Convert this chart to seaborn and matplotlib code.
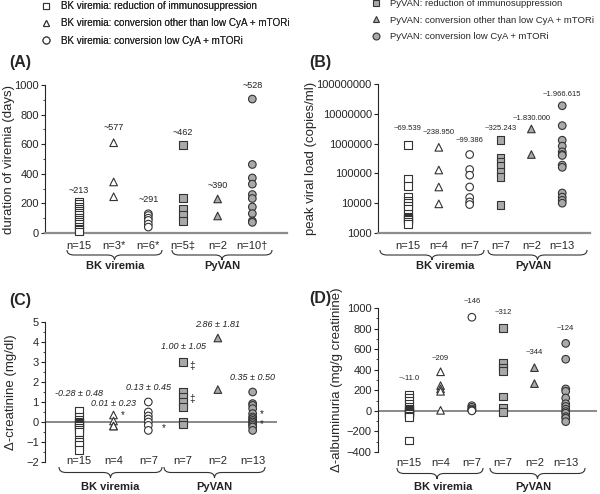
import numpy as np
import pandas as pd
import matplotlib
matplotlib.use('Agg')
import matplotlib.pyplot as plt
import seaborn as sns
from matplotlib.path import Path
from matplotlib.patches import PathPatch
from matplotlib.lines import Line2D
from matplotlib.ticker import MultipleLocator, NullLocator

# grupos (mismo orden en los 4 paneles)
grupos = ['BK_red', 'BK_conv', 'BK_low', 'Py_red', 'Py_conv', 'Py_low']
nombres = ['BK viremia: reduction of immunosuppression',
           'BK viremia: conversion other than low CyA + mTORi',
           'BK viremia: conversion low CyA + mTORi',
           'PyVAN: reduction of immunosuppression',
           'PyVAN: conversion other than low CyA + mTORi',
           'PyVAN: conversion low CyA + mTORi']
marcadores = ['s', '^', 'o', 's', '^', 'o']
relleno = ['white', 'white', 'white', '#a9a9a9', '#a9a9a9', '#a9a9a9']

# (A) duracion de viremia (dias)
dur_bk_red = [213, 195, 180, 165, 150, 135, 120, 105, 90, 75, 60, 45, 30, 20, 10]
dur_bk_conv = [610, 345, 245]
dur_bk_low = [130, 118, 100, 85, 60, 40]
dur_py_red = [595, 235, 165, 120, 80]
dur_py_conv = [230, 115]
dur_py_low = [905, 463, 372, 330, 260, 233, 176, 131, 81, 72]
n_a = ['n=15', 'n=3*', 'n=6*', 'n=5‡', 'n=2', 'n=10†']
med_a = ['~213', '~577', '~291', '~462', '~390', '~528']
med_a_y = [290, 716, 223, 682, 324, 1000]

# (B) carga viral maxima (copias/ml)
load_bk_red = [900000, 65000, 37000, 16000, 12000, 10000, 8000, 6500, 4500,
               3500, 3200, 3000, 2800, 2400, 2000]
load_bk_conv = [750000, 130000, 35000, 9500]
load_bk_low = [430000, 135000, 87000, 35000, 15500, 11000, 9000]
load_py_red = [1300000, 340000, 245000, 175000, 112000, 76000, 8500]
load_py_conv = [3100000, 430000]
load_py_low = [18600000, 4000000, 1300000, 820000, 530000, 430000, 400000,
               190000, 160000, 22000, 16000, 12500, 10000]
n_b = ['n=15', 'n=4', 'n=7', 'n=7', 'n=2', 'n=13']
med_b = ['~69.539', '~238.950', '~99.386', '~325.243', '~1.830.000', '~1.966.615']
med_b_y = [3.3e6, 2.3e6, 1.23e6, 3.3e6, 7.2e6, 4.6e7]

# (C) delta creatinina (mg/dl)
crea_bk_red = [0.55, 0.25, 0.1, 0.0, -0.05, -0.1, -0.15, -0.2, -0.3, -0.4,
               -0.5, -0.9, -1.0, -1.15, -1.4]
crea_bk_conv = [0.35, 0.05, -0.2, -0.2]
crea_bk_low = [1.0, 0.5, 0.3, 0.15, 0.0, -0.17, -0.42]
crea_py_red = [3.0, 1.5, 1.25, 1.0, 0.75, 0.0, -0.12]
crea_py_conv = [4.2, 1.62]
crea_py_low = [1.5, 0.92, 0.83, 0.67, 0.42, 0.25, 0.17, 0.08, 0.0, -0.08,
               -0.17, -0.25, -0.42]
n_c = ['n=15', 'n=4', 'n=7', 'n=7', 'n=2', 'n=13']
med_c = ['-0.28 ± 0.48', '0.01 ± 0.23', '0.13 ± 0.45', '1.00 ± 1.05',
         '2.86 ± 1.81', '0.35 ± 0.50']
med_c_y = [1.45, 0.95, 1.75, 3.8, 4.9, 2.25]

# (D) delta albuminuria (mg/g creatinina)
alb_bk_red = [160, 130, 100, 70, 40, 20, 10, 0, 0, -10, -20, -30, -45, -60, -290]
alb_bk_conv = [380, 245, 215, 190, 5]
alb_bk_low = [910, 50, 35, 20, 10, 5, 0]
alb_py_red = [805, 465, 420, 385, 140, 30, -10]
alb_py_conv = [420, 265]
alb_py_low = [656, 502, 213, 190, 125, 69, 43, 16, -7, -23, -56, -72, -105]
n_d = ['n=15', 'n=4', 'n=7', 'n=7', 'n=2', 'n=13']
med_d = ['~-11.0', '~209', '~146', '~312', '~344', '~124']
med_d_y = [310, 505, 1068, 961, 563, 796]

W, H = 600, 494
sns.set_style('ticks')
plt.rcParams['font.family'] = ['Liberation Sans', 'DejaVu Sans']
plt.rcParams['axes.linewidth'] = 0.8

fig = plt.figure(figsize=(W / 100, H / 100), dpi=100)


def px(x, y):
    return x / W, 1 - y / H


def nuevo_ax(l, r, t, b):
    return fig.add_axes([l / W, 1 - b / H, (r - l) / W, (b - t) / H])


def tabla(listas):
    filas = []
    for i, vals in enumerate(listas):
        for v in vals:
            filas.append({'pos': i, 'grupo': grupos[i], 'valor': v})
    return pd.DataFrame(filas)


def dibujar(ax, listas, n_labels, meds, meds_y, italic=False, fs_med=6.5):
    df = tabla(listas)
    sns.scatterplot(data=df, x='pos', y='valor', hue='grupo', style='grupo',
                    palette=dict(zip(grupos, relleno)),
                    markers=dict(zip(grupos, marcadores)),
                    edgecolor='#333333', linewidth=0.8, s=30,
                    legend=False, ax=ax, zorder=3, clip_on=False)
    for i, (t, y) in enumerate(zip(meds, meds_y)):
        ax.text(i, y, t, ha='center', va='center', fontsize=fs_med,
                style='italic' if italic else 'normal', color='#222222',
                clip_on=False)
    ax.set_xticks(range(6))
    ax.set_xticklabels(n_labels)
    ax.set_xlabel('')
    ax.tick_params(axis='x', length=0, labelsize=8)
    ax.tick_params(axis='y', which='major', length=3, width=0.8, labelsize=8, pad=1.5)
    ax.tick_params(axis='y', which='minor', length=1.5, width=0.6)
    sns.despine(ax=ax)


def llave(x0, x1, y, h, tip=None):
    xc = (x0 + x1) / 2 if tip is None else tip
    q = 7
    ym = y + h / 2
    pts = [(x0, y), (x0, ym), (x0 + q, ym), (xc - q, ym), (xc, ym), (xc, y + h),
           (xc, ym), (xc + q, ym), (x1 - q, ym), (x1, ym), (x1, y)]
    codes = [Path.MOVETO, Path.CURVE3, Path.CURVE3, Path.LINETO, Path.CURVE3,
             Path.CURVE3, Path.CURVE3, Path.CURVE3, Path.LINETO, Path.CURVE3,
             Path.CURVE3]
    path = Path([px(*p) for p in pts], codes)
    fig.add_artist(PathPatch(path, transform=fig.transFigure, fill=False,
                             lw=0.8, edgecolor='#333333'))


def rotulo(x, y, t):
    fig.text(*px(x, y), t, ha='center', va='center', fontsize=8,
             fontweight='bold', color='#222222')


# ---- (A)
axA = nuevo_ax(45, 287, 85, 233)
dibujar(axA, [dur_bk_red, dur_bk_conv, dur_bk_low, dur_py_red, dur_py_conv, dur_py_low],
        n_a, med_a, med_a_y)
axA.set_ylim(0, 1000)
axA.set_xlim(-0.98, 6.0)
axA.set_yticks(range(0, 1001, 200))
axA.yaxis.set_minor_locator(MultipleLocator(100))
axA.spines['bottom'].set_color('#8c8c8c')
axA.spines['bottom'].set_linewidth(1.6)
axA.tick_params(axis='x', pad=6)
axA.set_ylabel('duration of viremia (days)', fontsize=9.5)
axA.yaxis.set_label_coords(-0.125, 0.5)

# ---- (B)
axB = nuevo_ax(378, 590, 84, 233)
dibujar(axB, [load_bk_red, load_bk_conv, load_bk_low, load_py_red, load_py_conv, load_py_low],
        n_b, med_b, med_b_y, fs_med=5.5)
axB.set_yscale('log')
axB.set_ylim(1e3, 1e8)
axB.set_xlim(-0.97, 5.9)
ticks_b = [10 ** k for k in range(3, 9)]
axB.set_yticks(ticks_b)
axB.set_yticklabels([str(t) for t in ticks_b])
axB.yaxis.set_minor_locator(NullLocator())
axB.spines['bottom'].set_color('#8c8c8c')
axB.spines['bottom'].set_linewidth(1.6)
axB.tick_params(axis='x', pad=6)
axB.set_ylabel('peak viral load (copies/ml)', fontsize=9.5)
axB.yaxis.set_label_coords(-0.29, 0.5)

# ---- (C)
axC = nuevo_ax(45, 277, 322, 462)
dibujar(axC, [crea_bk_red, crea_bk_conv, crea_bk_low, crea_py_red, crea_py_conv, crea_py_low],
        n_c, med_c, med_c_y, italic=True)
axC.set_ylim(-2, 5)
axC.set_xlim(-0.97, 5.7)
axC.set_yticks(range(-2, 6))
axC.yaxis.set_minor_locator(MultipleLocator(0.5))
axC.spines['bottom'].set_visible(False)
axC.axhline(0, color='#808080', lw=1.3, zorder=1)
axC.tick_params(axis='x', pad=-4)
axC.set_ylabel('Δ-creatinine (mg/dl)', fontsize=9.5)
axC.yaxis.set_label_coords(-0.12, 0.5)
# marcas de significancia
for xs, ys, t in [(1.28, 0.35, '*'), (2.45, -0.3, '*'), (3.25, 2.8, '‡'),
                  (3.25, 1.15, '‡'), (5.25, 0.42, '*'), (5.25, -0.12, '*')]:
    axC.text(xs, ys, t, ha='center', va='center', fontsize=7, color='#222222')

# ---- (D)
axD = nuevo_ax(378, 597, 308, 452)
dibujar(axD, [alb_bk_red, alb_bk_conv, alb_bk_low, alb_py_red, alb_py_conv, alb_py_low],
        n_d, med_d, med_d_y, fs_med=5.5)
axD.set_ylim(-400, 1000)
axD.set_xlim(-1.0, 6.0)
axD.set_yticks(range(-400, 1001, 200))
axD.yaxis.set_minor_locator(MultipleLocator(100))
axD.spines['bottom'].set_visible(False)
axD.axhline(0, color='#808080', lw=1.3, zorder=1)
axD.tick_params(axis='x', pad=4)
axD.set_ylabel('Δ-albuminuria (mg/g creatinine)', fontsize=9.5)
axD.yaxis.set_label_coords(-0.16, 0.5)

# letras de panel
for x, y, t in [(20, 63, '(A)'), (320, 63, '(B)'), (20, 300, '(C)'), (320, 298, '(D)')]:
    fig.text(*px(x, y), t, ha='center', va='center', fontsize=11.5, fontweight='bold')

# llaves y grupos
llave(67, 162, 250, 10)
llave(172, 272, 250, 10)
rotulo(115, 266, 'BK viremia')
rotulo(222, 266, 'PyVAN')
llave(380, 484, 250, 10, tip=432)
llave(488, 587, 250, 10)
rotulo(445, 266, 'BK viremia')
rotulo(533, 266, 'PyVAN')
llave(59, 162, 467, 11)
llave(164, 265, 467, 11)
rotulo(110, 487, 'BK viremia')
rotulo(214, 487, 'PyVAN')
llave(397, 483, 468, 11, tip=437)
llave(490, 585, 468, 11)
rotulo(443, 487, 'BK viremia')
rotulo(533, 487, 'PyVAN')

# leyenda
hnd = [Line2D([], [], ls='', marker=m, mfc=f, mec='#333333', mew=0.8, ms=5)
       for m, f in zip(marcadores, relleno)]
leg1 = fig.legend(hnd[:3], nombres[:3], loc='upper left', bbox_to_anchor=(40 / W, 1.0),
                  frameon=False, fontsize=7.1, handlelength=1.0, handletextpad=1.0,
                  labelspacing=0.75, borderaxespad=0.0, borderpad=0.1)
fig.add_artist(leg1)
fig.legend(hnd[3:], nombres[3:], loc='upper left', bbox_to_anchor=(370 / W, 1.0 + 2 / H),
           frameon=False, fontsize=6.8, handlelength=1.0, handletextpad=1.0,
           labelspacing=0.8, borderaxespad=0.0, borderpad=0.1)

plt.savefig('out.png', dpi=100)
